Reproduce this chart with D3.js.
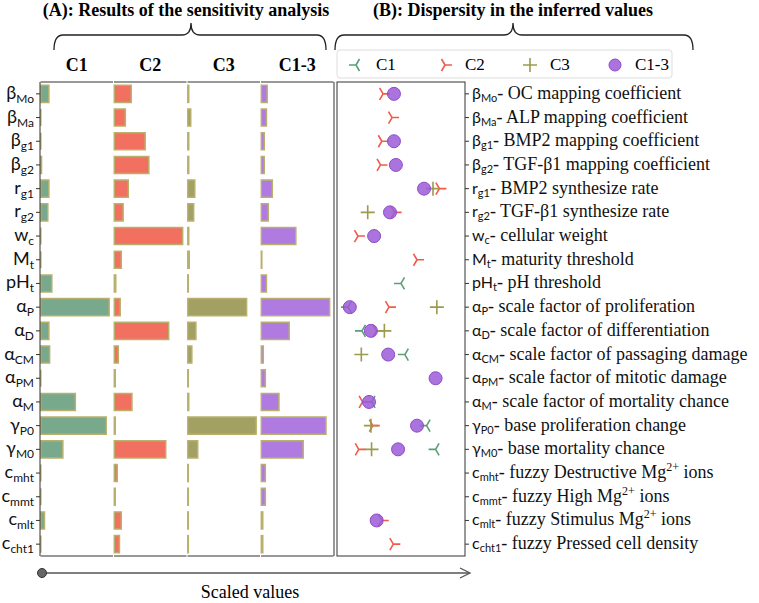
<!DOCTYPE html>
<html>
<head>
<meta charset="utf-8">
<script src="https://cdn.jsdelivr.net/npm/d3@7"></script>
<style>
body { margin: 0; background: #fff; }
svg { display: block; }
.serif { font-family: "Liberation Serif", "Times New Roman", serif; }
.sym { font-family: "Lato", "DejaVu Sans", sans-serif; }
</style>
</head>
<body>
<svg id="chart" width="759" height="603"></svg>
<script>
// parameters (symbol + subscript) and their descriptions
var symbols = ['β', 'β', 'β', 'β', 'r', 'r', 'w', 'M', 'pH', 'α', 'α', 'α', 'α', 'α', 'γ', 'γ', 'c', 'c', 'c', 'c']
var subs = ['Mo', 'Ma', 'g1', 'g2', 'g1', 'g2', 'c', 't', 't', 'P', 'D', 'CM', 'PM', 'M', 'P0', 'M0', 'mht', 'mmt', 'mlt', 'cht1']
var descs = ['OC mapping  coefficient', 'ALP mapping coefficient', 'BMP2 mapping coefficient',
  'TGF-β1 mapping coefficient', 'BMP2 synthesize rate', 'TGF-β1 synthesize rate', 'cellular weight',
  'maturity threshold', 'pH threshold', 'scale factor of proliferation', 'scale factor of differentiation',
  'scale factor of passaging damage', 'scale factor of mitotic damage', 'scale factor of mortality chance',
  'base proliferation change', 'base mortality chance', 'fuzzy Destructive Mg^2+ ions',
  'fuzzy High Mg^2+ ions', 'fuzzy Stimulus Mg^2+ ions', 'fuzzy Pressed cell density']

var cases = ['C1', 'C2', 'C3', 'C1-3']

// (A) sensitivity, scaled 0-100
var sensC1 = [11, 0, 0, 1, 11, 9.5, 0, 0, 15, 93, 11, 12, 0, 47, 89, 30, 0, 0, 5, 0]
var sensC2 = [23, 15, 42, 47, 19, 12, 93, 9.5, 2, 8, 74, 5.5, 1.3, 24, 1.3, 70, 4, 1.3, 9.5, 7]
var sensC3 = [1.3, 4, 1.3, 1.3, 9.5, 8, 1.3, 2, 0.7, 80, 11, 5.5, 0.7, 1.3, 93, 13.5, 0.7, 0.7, 0.7, 0.7]
var sensC13 = [8, 7, 4, 4, 15, 9.5, 47, 0.7, 7, 93, 38, 2.7, 5.5, 24, 88, 57, 5.5, 5.5, 2, 2]

// (B) inferred values, scaled 0-100 (null = not shown)
var inferC1 = [null, null, null, null, null, null, null, null, 50, 8.6, 19.5, 53, null, 27, 70, 77, null, null, null, null]
var inferC2 = [36, 43, 35, 34, 80, 45, 16.4, 62.5, null, 40.6, 31, null, null, 20, 28, 17, null, null, 35, 44]
var inferC3 = [null, null, null, null, 75, 24, null, null, null, 78, 37, 19, null, null, 26.5, 27, null, null, null, null]
var inferC13 = [44.5, null, 44.5, 46, 68, 41.4, 29, null, null, 10, 26.5, 40, 77, 25, 62.5, 47.7, null, null, 31, null]

var sens = [sensC1, sensC2, sensC3, sensC13]
var barColors = ['#78a98c', '#f2705f', '#a3a064', '#b07be0']
var edgeColor = '#b9b06c'

var svg = d3.select('#chart')
var rows = d3.range(symbols.length)

var y = d3.scaleBand().domain(rows).range([82, 556]).paddingInner(0.28).paddingOuter(0.14)
var cy = function(i){ return y(i) + y.bandwidth() / 2 }

// titles
svg.append('text').attr('class', 'serif').attr('x', 186).attr('y', 16)
  .attr('text-anchor', 'middle').attr('font-size', 18).attr('font-weight', 'bold')
  .text('(A): Results of the sensitivity analysis')
svg.append('text').attr('class', 'serif').attr('x', 513).attr('y', 16)
  .attr('text-anchor', 'middle').attr('font-size', 18).attr('font-weight', 'bold')
  .text('(B): Dispersity in the inferred values')

function brace(x1, x2, xc){
  var yb = 50, yh = 35, yp = 23, r = 9
  return 'M' + x1 + ',' + yb + ' Q' + x1 + ',' + yh + ' ' + (x1 + r) + ',' + yh +
    ' L' + (xc - r) + ',' + yh + ' Q' + xc + ',' + yh + ' ' + xc + ',' + yp +
    ' Q' + xc + ',' + yh + ' ' + (xc + r) + ',' + yh +
    ' L' + (x2 - r) + ',' + yh + ' Q' + x2 + ',' + yh + ' ' + x2 + ',' + yb
}
svg.append('path').attr('d', brace(54, 326, 191)).attr('fill', 'none').attr('stroke', '#222').attr('stroke-width', 1.3)
svg.append('path').attr('d', brace(335, 693, 513)).attr('fill', 'none').attr('stroke', '#222').attr('stroke-width', 1.3)

// ---- panel A ----
var px = d3.scaleBand().domain(cases).range([40, 334])

svg.selectAll('.colLabel').data(cases).enter().append('text')
  .attr('class', 'serif').attr('x', function(d){ return px(d) + px.bandwidth() / 2 })
  .attr('y', 71).attr('text-anchor', 'middle').attr('font-size', 18).attr('font-weight', 'bold')
  .text(function(d){ return d })

cases.forEach(function(c, k){
  var x = d3.scaleLinear().domain([0, 100]).range([px(c) + 0.8, px(c) + 0.8 + px.bandwidth()])
  var g = svg.append('g')
  g.selectAll('path').data(rows).enter().append('path')
    .attr('d', function(i){
      var w = x(sens[k][i]) - x(0)
      return 'M' + x(0) + ',' + y(i) + ' h' + w + ' v' + y.bandwidth() + ' h' + (-w) + ' Z'
    })
    .attr('fill', barColors[k]).attr('stroke', edgeColor).attr('stroke-width', 1.5)
  // spines per sub panel
  g.append('line').attr('x1', px(c) + 0.5).attr('x2', px(c) + px.bandwidth() - 0.5)
    .attr('y1', 82).attr('y2', 82).attr('stroke', '#333')
  g.append('line').attr('x1', px(c) + 0.5).attr('x2', px(c) + px.bandwidth() - 0.5)
    .attr('y1', 556).attr('y2', 556).attr('stroke', '#333')
})
svg.append('line').attr('x1', 40).attr('x2', 40).attr('y1', 82).attr('y2', 556).attr('stroke', '#333')
svg.append('line').attr('x1', 334).attr('x2', 334).attr('y1', 82).attr('y2', 556).attr('stroke', '#333')

var leftAxis = svg.append('g').attr('transform', 'translate(40,0)')
  .call(d3.axisLeft(y).tickSize(4).tickFormat(''))
leftAxis.select('.domain').remove()
leftAxis.selectAll('line').attr('stroke', '#333')

var leftLab = svg.selectAll('.leftLab').data(rows).enter().append('text')
  .attr('class', 'sym').attr('x', 34).attr('y', function(i){ return cy(i) + 5 })
  .attr('text-anchor', 'end').attr('fill', '#111')
leftLab.append('tspan').attr('font-size', 18).text(function(i){ return symbols[i] })
leftLab.append('tspan').attr('font-size', 12).attr('dy', 4).text(function(i){ return subs[i] })

// bottom arrow
svg.append('line').attr('x1', 42).attr('x2', 469).attr('y1', 573).attr('y2', 573).attr('stroke', '#555').attr('stroke-width', 1.3)
svg.append('path').attr('d', 'M460,568 L470,573 L460,578').attr('fill', 'none').attr('stroke', '#555').attr('stroke-width', 1.3)
svg.append('circle').attr('cx', 42).attr('cy', 573).attr('r', 4.5).attr('fill', '#666').attr('stroke', '#333')
svg.append('text').attr('class', 'serif').attr('x', 250).attr('y', 598)
  .attr('text-anchor', 'middle').attr('font-size', 18).text('Scaled values')

// ---- panel B ----
var xr = d3.scaleLinear().domain([0, 100]).range([337, 465])

svg.append('rect').attr('x', 337).attr('y', 82).attr('width', 128).attr('height', 474)
  .attr('fill', 'none').attr('stroke', '#333')

var rightAxis = svg.append('g').attr('transform', 'translate(465,0)')
  .call(d3.axisRight(y).tickSize(4).tickFormat(''))
rightAxis.select('.domain').remove()
rightAxis.selectAll('line').attr('stroke', '#333')

var triLeft = 'M0,0 L-7,0 M0,0 L3.5,-6 M0,0 L3.5,6'
var triRight = 'M0,0 L7,0 M0,0 L-3.5,-6 M0,0 L-3.5,6'
var plus = 'M-7,0 L7,0 M0,-7 L0,7'

var markerStyles = [
  {path: triLeft, color: '#5c9e78'},
  {path: triRight, color: '#f15a4b'},
  {path: plus, color: '#9c9a4c'}
]
var infer = [inferC1, inferC2, inferC3]

infer.forEach(function(series, k){
  svg.append('g').selectAll('path').data(rows.filter(function(i){ return series[i] != null })).enter()
    .append('path')
    .attr('transform', function(i){ return 'translate(' + xr(series[i]) + ',' + cy(i) + ')' })
    .attr('d', markerStyles[k].path).attr('fill', 'none')
    .attr('stroke', markerStyles[k].color).attr('stroke-width', 1.6)
})
svg.append('g').selectAll('circle').data(rows.filter(function(i){ return inferC13[i] != null })).enter()
  .append('circle').attr('cx', function(i){ return xr(inferC13[i]) }).attr('cy', cy)
  .attr('r', 6.5).attr('fill', '#9c5bd8').attr('fill-opacity', 0.85)
  .attr('stroke', '#8c4cc8').attr('stroke-width', 1)

// right labels
var rightLab = svg.selectAll('.rightLab').data(rows).enter().append('text')
  .attr('x', 472).attr('y', function(i){ return cy(i) + 5 }).attr('fill', '#111')
rightLab.append('tspan').attr('class', 'sym').attr('font-size', 16).text(function(i){ return symbols[i] })
rightLab.append('tspan').attr('class', 'sym').attr('font-size', 11).attr('dy', 3).text(function(i){ return subs[i] })
rightLab.each(function(i){
  var t = d3.select(this)
  var parts = descs[i].split('^')
  t.append('tspan').attr('class', 'serif').attr('font-size', 18).attr('dy', -3)
    .text('- ' + (parts.length > 1 ? parts[0] : descs[i]))
  if (parts.length > 1){
    var sup = parts[1].slice(0, 2)
    var rest = parts[1].slice(2)
    t.append('tspan').attr('class', 'serif').attr('font-size', 12).attr('dy', -7).text(sup)
    t.append('tspan').attr('class', 'serif').attr('font-size', 18).attr('dy', 7).text(rest)
  }
})

// legend
var lg = svg.append('g')
lg.append('rect').attr('x', 337).attr('y', 50).attr('width', 335).attr('height', 28).attr('rx', 3)
  .attr('fill', '#fff').attr('stroke', '#ddd')
var legX = [356, 445, 530, 615]
cases.forEach(function(c, k){
  if (k < 3){
    lg.append('path').attr('transform', 'translate(' + legX[k] + ',65)')
      .attr('d', markerStyles[k].path).attr('fill', 'none')
      .attr('stroke', markerStyles[k].color).attr('stroke-width', 1.6)
  } else {
    lg.append('circle').attr('cx', legX[k]).attr('cy', 65).attr('r', 6)
      .attr('fill', '#9c5bd8').attr('fill-opacity', 0.85).attr('stroke', '#8c4cc8')
  }
  lg.append('text').attr('class', 'serif').attr('x', legX[k] + 20).attr('y', 70)
    .attr('font-size', 17).text(c)
})
</script>
</body>
</html>
